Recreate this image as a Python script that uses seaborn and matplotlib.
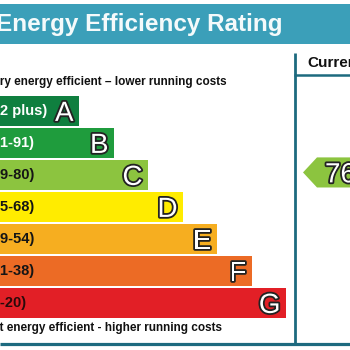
import matplotlib
matplotlib.use("Agg")
import matplotlib.pyplot as plt
import matplotlib.patheffects as pe
from matplotlib.patches import Rectangle, Polygon
import seaborn as sns

# ---- data ----
bands = ["A", "B", "C", "D", "E", "F", "G"]
band_ranges = ["(92 plus)", "(81-91)", "(69-80)", "(55-68)", "(39-54)", "(21-38)", "(1-20)"]
band_lower = [92, 81, 69, 55, 39, 21, 1]
bar_lengths = [79, 114, 148, 183, 217, 252, 286]
band_colors = ["#0f7f3f", "#1f9c3d", "#8cc43f", "#ffec00", "#f6ae20", "#ec6b25", "#e21f26"]
range_text_colors = ["white", "white", "#151515", "#151515", "#151515", "#151515", "#2a0a0a"]
current_rating = 76
title = "Energy Efficiency Rating"
top_note = "Very energy efficient \u2013 lower running costs"
bottom_note = "Not energy efficient - higher running costs"
column_header = "Current"

sns.set_style("white")
plt.rcParams["font.family"] = ["Liberation Sans", "DejaVu Sans"]

W = H = 350
fig = plt.figure(figsize=(3.5, 3.5), dpi=100)
fig.patch.set_facecolor("white")

# background axes in pixel coordinates
bg = fig.add_axes([0, 0, 1, 1])
bg.set_xlim(0, W)
bg.set_ylim(H, 0)
bg.axis("off")

teal = "#3b9fb9"
dark_teal = "#1d6a7f"
bg.add_patch(Rectangle((0, 4), W, 40, color=teal, lw=0))
bg.text(-3.5, 25, title, color="#f4fafb", fontsize=17.5, fontweight="bold",
        ha="left", va="center")
bg.text(-14, 82, top_note, color="#111111", fontsize=8.45, fontweight="bold",
        ha="left", va="center")
bg.text(-15.5, 328, bottom_note, color="#111111", fontsize=8.5, fontweight="bold",
        ha="left", va="center")
bg.plot([294.5, 294.5], [53, 345], color=dark_teal, lw=2.0, solid_capstyle="butt")
bg.plot([294, W], [75, 75], color=dark_teal, lw=1.8, solid_capstyle="butt")
bg.plot([0, W], [343.5, 343.5], color=dark_teal, lw=2.3, solid_capstyle="butt")
bg.text(307, 63, column_header, color="#111111", fontsize=11, fontweight="bold",
        ha="left", va="center")

# bars axes: rows 0..6, pixel x
ax = fig.add_axes([0, 1 - 319 / H, 1, 224 / H])
ax.patch.set_alpha(0)
sns.barplot(x=bar_lengths, y=bands, hue=bands, palette=band_colors, legend=False,
            orient="h", width=0.94, saturation=1, ax=ax, edgecolor="none", linewidth=0)
ax.set_xlim(0, W)
ax.set_ylim(6.5, -0.5)
ax.axis("off")

outline = [pe.Stroke(linewidth=2.6, foreground="#222222"), pe.Normal()]
for i, (b, rng, L) in enumerate(zip(bands, band_ranges, bar_lengths)):
    ax.text(L - 5.5, i + 0.31, b, color="white", fontsize=20, ha="right",
            va="baseline", path_effects=outline)
    ax.text(-13, i, rng, color=range_text_colors[i], fontsize=10.5,
            fontweight="bold", ha="left", va="center")

# current rating arrow
idx = next(i for i, lo in enumerate(band_lower) if current_rating >= lo)
r = idx - 0.08
hh = 0.47
arrow = Polygon([(303, r), (317, r - hh), (W + 5, r - hh), (W + 5, r + hh), (317, r + hh)],
                closed=True, color=band_colors[idx], lw=0, clip_on=False)
ax.add_patch(arrow)
ax.text(325, r + 0.31, str(current_rating), color="white", fontsize=20, ha="left",
        va="baseline", path_effects=outline, clip_on=False)

fig.savefig("out.png", dpi=100)
